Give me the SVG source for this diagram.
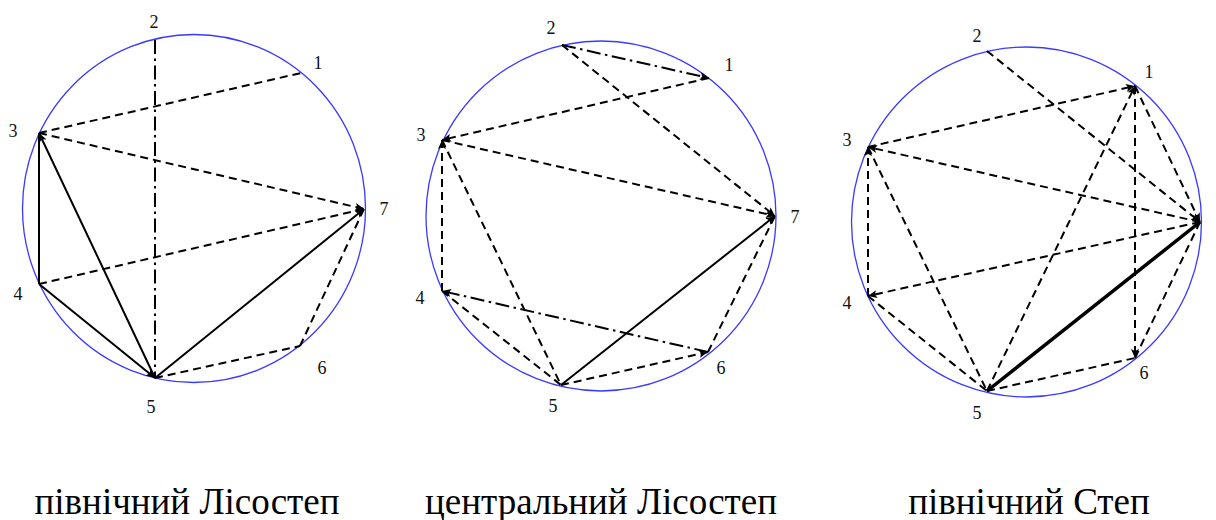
<svg xmlns="http://www.w3.org/2000/svg" width="1216" height="520" viewBox="0 0 1216 520">
<style>
.ring{fill:none;stroke:#3a3aff;stroke-width:1.3}
.e{fill:none;stroke:#000;stroke-width:2}
.d{stroke-dasharray:8 5}
.dd{stroke-dasharray:14 4.5 2.5 4.5}
.b{stroke-width:3.5}
.lbl{font-family:'Liberation Serif','Times New Roman',Times,serif;font-size:18px;fill:#111;text-anchor:middle;dominant-baseline:central}
.cap{font-family:'Liberation Serif','Times New Roman',Times,serif;font-size:37px;fill:#000;text-anchor:middle}
</style>
<defs>
<marker id="ah" markerUnits="userSpaceOnUse" markerWidth="10" markerHeight="8" refX="9" refY="4" orient="auto">
<path d="M0,0 L9,4 L0,8 L2,4 Z" fill="#000"/>
</marker>
</defs>
<g id="diagram1">
<ellipse class="ring" cx="194" cy="208.5" rx="171.5" ry="174"/>
<g id="connectors1">
<line class="e dd" x1="155" y1="40" x2="155" y2="378"/>
<line class="e d" x1="39" y1="133" x2="301" y2="73"/>
<line class="e d" x1="39" y1="133" x2="364" y2="209" marker-end="url(#ah)"/>
<line class="e d" x1="39" y1="284" x2="364" y2="209"/>
<line class="e d" x1="300" y1="346" x2="364" y2="209"/>
<line class="e d" x1="155" y1="378" x2="300" y2="346"/>
<line class="e" x1="39" y1="284" x2="39" y2="133"/>
<line class="e" x1="155" y1="378" x2="39" y2="133" marker-end="url(#ah)"/>
<line class="e" x1="39" y1="284" x2="155" y2="378" marker-end="url(#ah)"/>
<line class="e" x1="155" y1="378" x2="364" y2="209" marker-end="url(#ah)"/>
</g>
<g id="labels1">
<text class="lbl" font-family="Liberation Serif, serif" x="154" y="22">2</text>
<text class="lbl" font-family="Liberation Serif, serif" x="318" y="63">1</text>
<text class="lbl" font-family="Liberation Serif, serif" x="13" y="131">3</text>
<text class="lbl" font-family="Liberation Serif, serif" x="384" y="209">7</text>
<text class="lbl" font-family="Liberation Serif, serif" x="18" y="294">4</text>
<text class="lbl" font-family="Liberation Serif, serif" x="322" y="368">6</text>
<text class="lbl" font-family="Liberation Serif, serif" x="151" y="407">5</text>
</g>
</g>
<g id="diagram2">
<ellipse class="ring" cx="601" cy="216" rx="175" ry="175"/>
<g id="connectors2">
<line class="e dd" x1="562" y1="45" x2="709" y2="78" marker-end="url(#ah)"/>
<line class="e d" x1="562" y1="45" x2="775" y2="216" marker-end="url(#ah)"/>
<line class="e d" x1="709" y1="78" x2="442" y2="140" marker-end="url(#ah)"/>
<line class="e d" x1="442" y1="140" x2="775" y2="216" marker-end="url(#ah)"/>
<line class="e d" x1="442" y1="291" x2="442" y2="140" marker-end="url(#ah)"/>
<line class="e d" x1="442" y1="140" x2="561" y2="385"/>
<line class="e dd" x1="708" y1="352" x2="442" y2="291" marker-end="url(#ah)"/>
<line class="e d" x1="442" y1="291" x2="561" y2="385"/>
<line class="e d" x1="561" y1="385" x2="708" y2="352" marker-end="url(#ah)"/>
<line class="e d" x1="708" y1="352" x2="775" y2="216"/>
<line class="e" x1="561" y1="385" x2="775" y2="216" marker-end="url(#ah)"/>
</g>
<g id="labels2">
<text class="lbl" font-family="Liberation Serif, serif" x="551" y="28">2</text>
<text class="lbl" font-family="Liberation Serif, serif" x="729" y="65">1</text>
<text class="lbl" font-family="Liberation Serif, serif" x="421" y="135">3</text>
<text class="lbl" font-family="Liberation Serif, serif" x="795" y="217">7</text>
<text class="lbl" font-family="Liberation Serif, serif" x="420" y="298">4</text>
<text class="lbl" font-family="Liberation Serif, serif" x="721" y="368">6</text>
<text class="lbl" font-family="Liberation Serif, serif" x="553" y="406">5</text>
</g>
</g>
<g id="diagram3">
<ellipse class="ring" cx="1026.5" cy="222" rx="175" ry="175"/>
<g id="connectors3">
<line class="e d" x1="987" y1="51" x2="1200" y2="222" marker-end="url(#ah)"/>
<line class="e d" x1="868" y1="147" x2="1135" y2="86" marker-end="url(#ah)"/>
<line class="e d" x1="1200" y1="222" x2="868" y2="147" marker-end="url(#ah)"/>
<line class="e d" x1="1200" y1="222" x2="868" y2="296" marker-end="url(#ah)"/>
<line class="e d" x1="868" y1="296" x2="868" y2="147" marker-end="url(#ah)"/>
<line class="e d" x1="868" y1="147" x2="987" y2="391"/>
<line class="e d" x1="868" y1="296" x2="987" y2="391"/>
<line class="e d" x1="987" y1="391" x2="1135" y2="86" marker-end="url(#ah)"/>
<line class="e d" x1="1135" y1="86" x2="1135" y2="358" marker-end="url(#ah)"/>
<line class="e d" x1="1135" y1="86" x2="1200" y2="222" marker-end="url(#ah)"/>
<line class="e d" x1="1135" y1="358" x2="1200" y2="222"/>
<line class="e d" x1="987" y1="391" x2="1135" y2="358"/>
<line class="e b" x1="987" y1="391" x2="1200" y2="222"/>
</g>
<g id="labels3">
<text class="lbl" font-family="Liberation Serif, serif" x="977" y="36">2</text>
<text class="lbl" font-family="Liberation Serif, serif" x="1149" y="72">1</text>
<text class="lbl" font-family="Liberation Serif, serif" x="847" y="140">3</text>
<text class="lbl" font-family="Liberation Serif, serif" x="847" y="303">4</text>
<text class="lbl" font-family="Liberation Serif, serif" x="1144" y="373">6</text>
<text class="lbl" font-family="Liberation Serif, serif" x="977" y="413">5</text>
</g>
</g>
<g id="captions">
<text class="cap" font-family="Liberation Serif, serif" x="187" y="514">північний Лісостеп</text>
<text class="cap" font-family="Liberation Serif, serif" x="601" y="514">центральний Лісостеп</text>
<text class="cap" font-family="Liberation Serif, serif" x="1029" y="514">північний Степ</text>
</g>
</svg>
